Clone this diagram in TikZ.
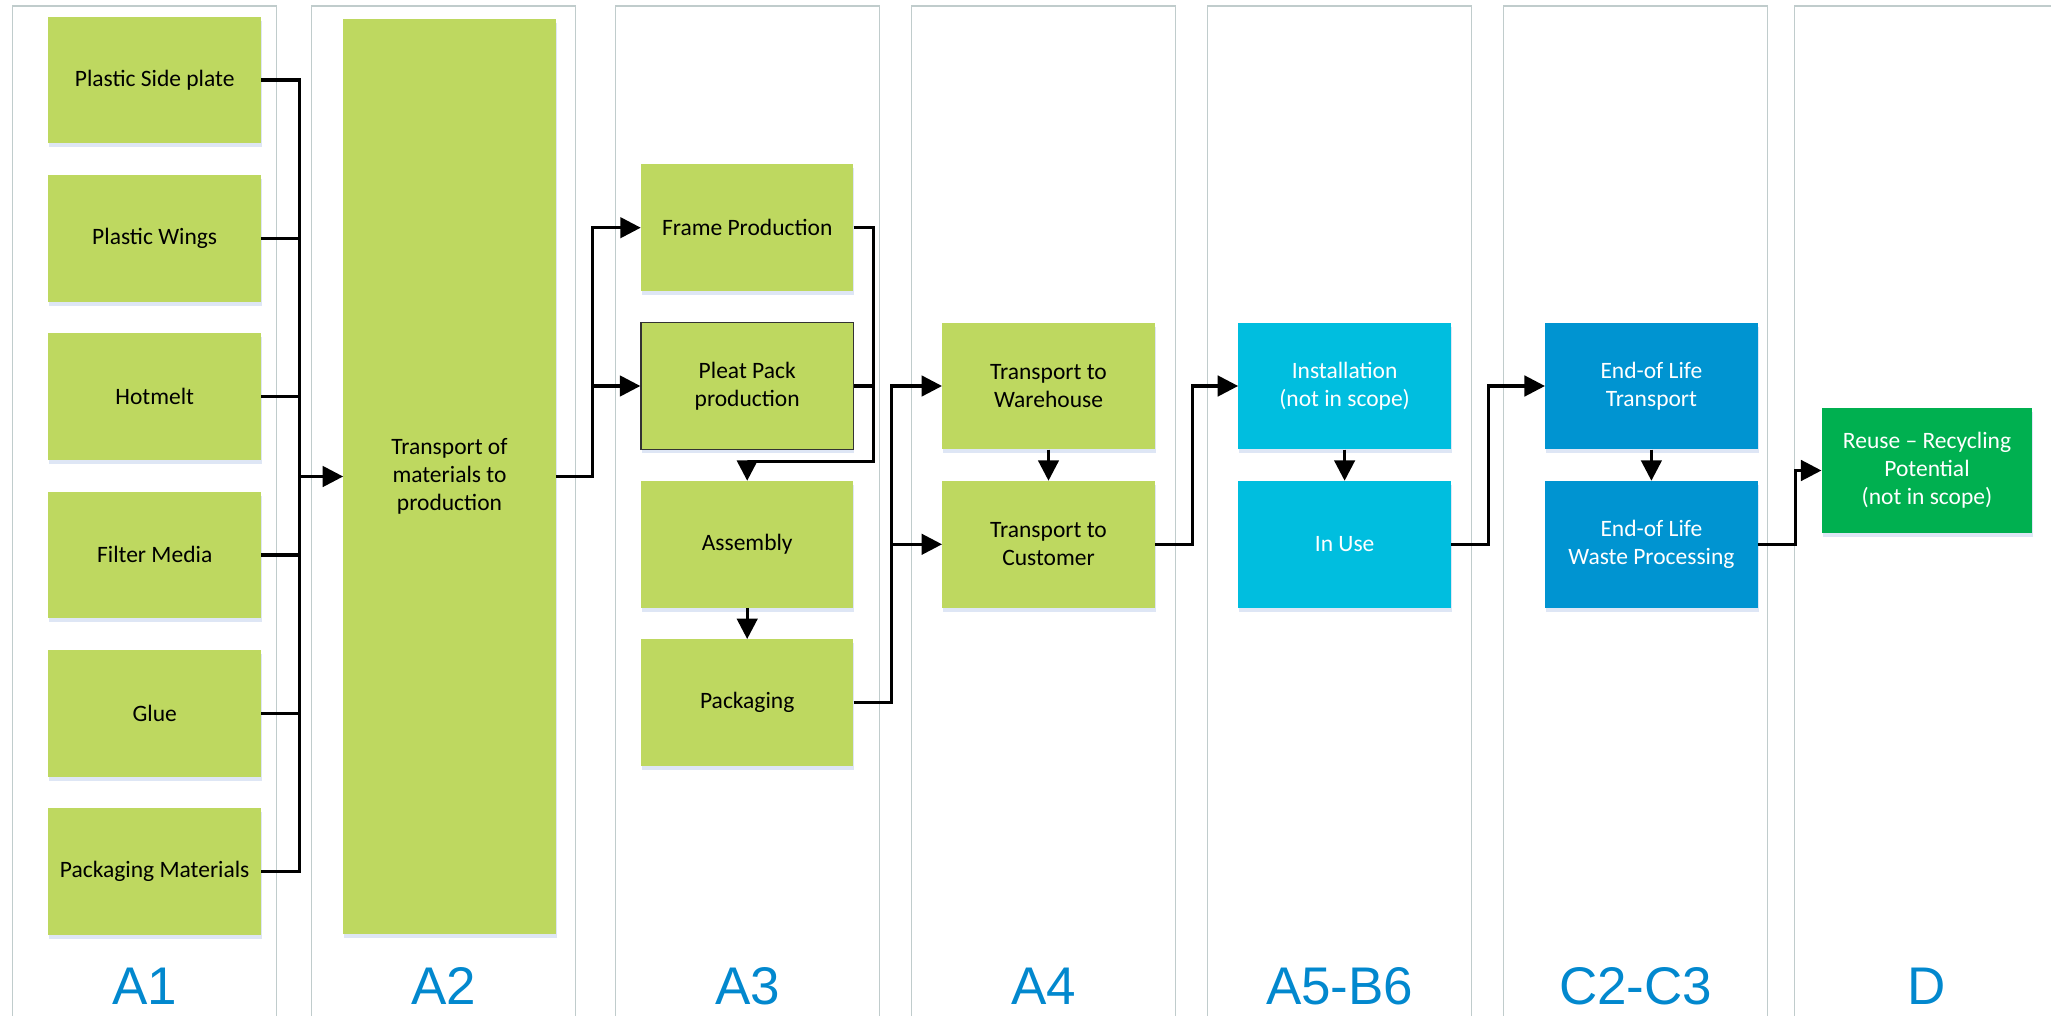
\documentclass[tikz,border=0pt]{standalone}
\usepackage{fontspec}
\setmainfont{Carlito}
\newfontfamily\lanefont{Liberation Sans}
\usetikzlibrary{arrows.meta,shadows}

\definecolor{lime}{RGB}{190,216,96}
\definecolor{sky}{RGB}{0,190,223}
\definecolor{ocean}{RGB}{0,148,209}
\definecolor{leaf}{RGB}{0,176,80}
\definecolor{lanegray}{RGB}{192,204,204}
\definecolor{laneblue}{RGB}{2,136,206}
\definecolor{shade}{RGB}{214,224,242}

\begin{document}
\begin{tikzpicture}[x=1pt, y=-1pt, node distance=158.3pt,
                    main node/.style={rectangle, fill=lime, minimum width=212.5pt, minimum height=126.7pt,
                      inner sep=0pt, align=center, font=\fontsize{23.5}{28.2}\selectfont,
                      drop shadow={shadow xshift=1pt, shadow yshift=-4pt, fill=shade, opacity=.8}},
                    use node/.style={main node, fill=sky, text=white},
                    eol node/.style={main node, fill=ocean, text=white},
                    d node/.style={main node, fill=leaf, text=white},
                    lane/.style={draw=lanegray, line width=1.3pt},
                    lane label/.style={anchor=base, inner sep=0pt, text=laneblue, font=\lanefont\fontsize{53}{60}\selectfont},
                    wire/.style={line width=3.2pt},
                    flow/.style={wire, -{Triangle[length=20.5pt, width=20.5pt]}}]

  \useasboundingbox (0,0) rectangle (2051,1016);
  \clip (0,0) rectangle (2051,1016);

  \foreach \x/\t [count=\i] in {12.7/A1, 311.7/A2, 615.7/A3, 911.7/A4, 1207.7/A5-B6, 1503.7/C2-C3, 1794.3/D}{
    \draw[lane] (\x,6) rectangle ++(264,1040);
    \node[lane label] (l\i) at (\x+132,1004.5) {\t};
  }

   \node[main node] (1) at (154.7,80) {Plastic Side plate};
  \node[main node] (2) [below of=1] {Plastic Wings};
    \node[main node] (3) [below of=2] {Hotmelt};
      \node[main node] (4) [below of=3] {Filter Media};
        \node[main node] (5) [below of=4] {Glue};
          \node[main node] (6) [below of=5] {Packaging Materials};

  \node[main node, minimum width=212.3pt, minimum height=914.4pt] (7) at (449.5,476.5) {Transport of\\materials to\\production};

   \node[main node] (8) at (747.2,227.7) {Frame Production};
  \node[main node, draw=black!80, line width=1.2pt] (9) [below of=8] {Pleat Pack\\production};
    \node[main node] (10) [below of=9] {Assembly};
      \node[main node] (11) [below of=10] {Packaging};

   \node[main node] (12) at (1048.5,386) {Transport to\\Warehouse};
  \node[main node] (13) [below of=12] {Transport to\\Customer};

   \node[use node] (14) at (1344.6,386) {Installation\\(not in scope)};
  \node[use node] (15) [below of=14] {In Use};

   \node[eol node] (16) at (1651.4,386) {End-of Life\\Transport};
  \node[eol node] (17) [below of=16] {End-of Life\\Waste Processing};

   \node[d node, minimum width=210.7pt, minimum height=125.6pt] (18) at (1927,470.5) {Reuse – Recycling\\Potential\\(not in scope)};

  % A1 -> A2
  \coordinate (j0) at ([xshift=38pt]1.east);
  \coordinate (j1) at (j0 |- 7.west);
  \foreach \n in {1,...,6} \draw[wire] (\n.east) -| (j1);
  \draw[flow] (j1) -- (7.west);

  % A2 -> A3
  \coordinate (j2) at ([xshift=37pt]7.east);
  \draw[flow] (7.east) -- (j2) |- (8.west);
  \draw[flow] (j2) |- (9.west);

  \coordinate (j3) at ([xshift=19.5pt]8.east);
  \draw[flow] (8.east) -- (j3) |- ([yshift=19.3pt]10.north) -- (10.north);
  \draw[wire] (9.east) -- (9.east -| j3);
  \draw[flow] (10) -- (11);

  % A3 -> A4 -> A5-B6 -> C2-C3 -> D
  \coordinate (j4) at ([xshift=37.7pt]11.east);
  \draw[flow] (11.east) -- (j4) |- (12.west);
  \draw[flow] (j4) |- (13.west);
  \draw[flow] (12) -- (13);

  \coordinate (j5) at ([xshift=37.4pt]13.east);
  \draw[flow] (13.east) -- (j5) |- (14.west);
  \draw[flow] (14) -- (15);

  \coordinate (j6) at ([xshift=37.3pt]15.east);
  \draw[flow] (15.east) -- (j6) |- (16.west);
  \draw[flow] (16) -- (17);

  \coordinate (j7) at ([xshift=38pt]17.east);
  \draw[flow] (17.east) -- (j7) |- (18.west);

\end{tikzpicture}
\end{document}
